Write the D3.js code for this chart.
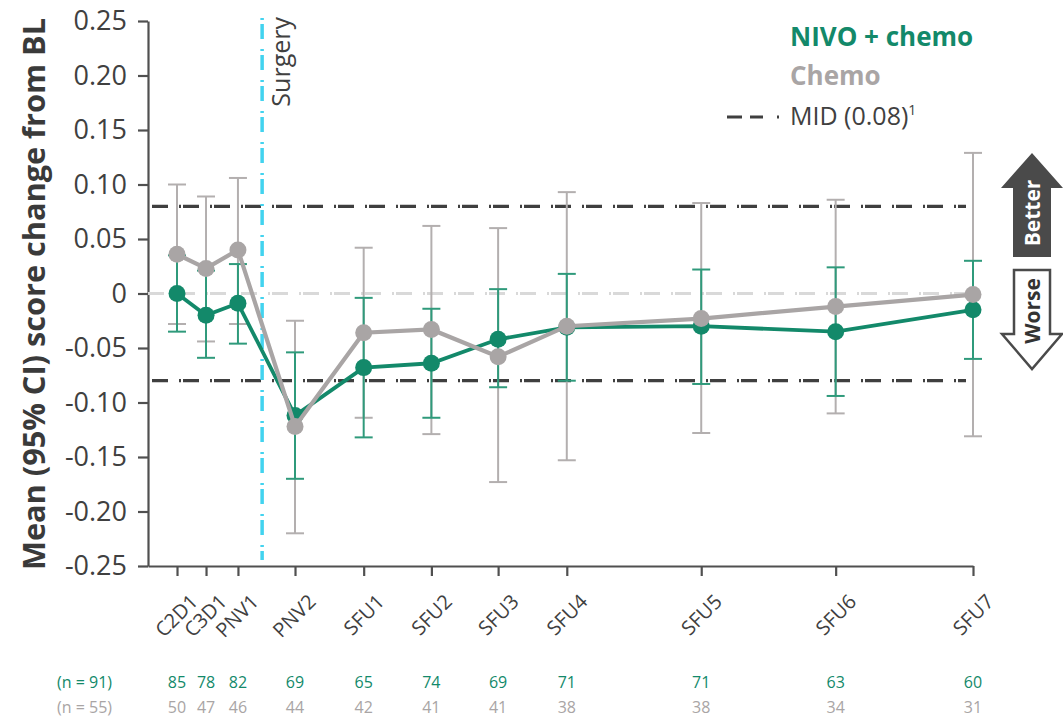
<!DOCTYPE html>
<html>
<head>
<meta charset="utf-8">
<script src="https://cdn.jsdelivr.net/npm/d3@7"></script>
<style>
  body { margin: 0; background: #fff; }
  svg { font-family: "Open Sans", "Noto Sans", sans-serif; }
</style>
</head>
<body>
<svg id="chart"></svg>
<script>
const visits = ['C2D1', 'C3D1', 'PNV1', 'PNV2', 'SFU1', 'SFU2', 'SFU3', 'SFU4', 'SFU5', 'SFU6', 'SFU7'];
// approximate study week of each visit (sets the uneven spacing)
const weeks = [3, 6, 9.3, 15.2, 22.3, 29.3, 36.2, 43.3, 57.2, 71.1, 85.3];
const surgeryWeek = 11.8;

const nivoMean = [0.000, -0.020, -0.009, -0.112, -0.068, -0.064, -0.042, -0.031, -0.030, -0.035, -0.015];
const nivoLow = [-0.035, -0.059, -0.046, -0.170, -0.132, -0.114, -0.086, -0.080, -0.083, -0.094, -0.060];
const nivoHigh = [0.035, 0.021, 0.027, -0.054, -0.004, -0.014, 0.004, 0.018, 0.022, 0.024, 0.030];

const chemoMean = [0.036, 0.023, 0.040, -0.122, -0.036, -0.033, -0.058, -0.030, -0.023, -0.012, -0.001];
const chemoLow = [-0.028, -0.044, -0.028, -0.220, -0.114, -0.129, -0.173, -0.153, -0.128, -0.110, -0.131];
const chemoHigh = [0.100, 0.089, 0.106, -0.025, 0.042, 0.062, 0.060, 0.093, 0.083, 0.086, 0.129];

const nivoN = [85, 78, 82, 69, 65, 74, 69, 71, 71, 63, 60];
const chemoN = [50, 47, 46, 44, 42, 41, 41, 38, 38, 34, 31];
const nivoTotal = 91;
const chemoTotal = 55;

const yTicks = [0.25, 0.20, 0.15, 0.10, 0.05, 0, -0.05, -0.10, -0.15, -0.20, -0.25];
const mid = 0.08;

const green = '#13896a';
const greenBar = '#2f9a7b';
const grey = '#a9a5a5';
const greyBar = '#b3afaf';
const dark = '#404040';

const width = 1063;
const height = 719;

const svg = d3.select('#chart')
    .attr('width', width)
    .attr('height', height);

const xScale = d3.scaleLinear()
    .domain([0, 85.3])
    .range([148, 973]);

const yScale = d3.scaleLinear()
    .domain([-0.25, 0.25])
    .range([566, 21]);

// axes
const yAxis = svg.append('g')
    .attr('transform', `translate(${xScale(0)},0)`)
    .call(d3.axisLeft(yScale)
        .tickValues(yTicks)
        .tickSize(10)
        .tickSizeOuter(0)
        .tickPadding(11)
        .tickFormat(d => d === 0 ? '0' : d.toFixed(2)));

const xAxis = svg.append('g')
    .attr('transform', `translate(0,${yScale(-0.25)})`)
    .call(d3.axisBottom(xScale)
        .tickValues(weeks)
        .tickSize(10)
        .tickSizeOuter(0)
        .tickFormat(''));

svg.selectAll('.domain').attr('stroke', '#505050').attr('stroke-width', 2.2);
svg.selectAll('.tick line').attr('stroke', '#505050').attr('stroke-width', 2.2);
yAxis.selectAll('.tick text')
    .attr('font-size', 27)
    .attr('fill', dark)
    .attr('font-family', '"Open Sans", sans-serif');

// x labels, rotated
svg.append('g')
    .selectAll('text')
    .data(visits)
    .join('text')
    .attr('transform', (d, i) => `translate(${xScale(weeks[i]) + 22},603) rotate(-45)`)
    .attr('text-anchor', 'end')
    .attr('font-size', 20)
    .attr('fill', dark)
    .text(d => d);

// reference lines
const dashDot = '16,11,2,2';
svg.append('line')
    .attr('x1', xScale(0)).attr('x2', 968)
    .attr('y1', yScale(0)).attr('y2', yScale(0))
    .attr('stroke', '#d9d9d9')
    .attr('stroke-width', 3)
    .attr('stroke-dasharray', dashDot);

svg.selectAll('.mid')
    .data([mid, -mid])
    .join('line')
    .attr('class', 'mid')
    .attr('x1', xScale(0) + 4).attr('x2', 966)
    .attr('y1', d => yScale(d)).attr('y2', d => yScale(d))
    .attr('stroke', '#3f3f3f')
    .attr('stroke-width', 3.2)
    .attr('stroke-dasharray', dashDot);

svg.append('line')
    .attr('x1', xScale(surgeryWeek)).attr('x2', xScale(surgeryWeek))
    .attr('y1', 18).attr('y2', 560)
    .attr('stroke', '#42d3ef')
    .attr('stroke-width', 3.5)
    .attr('stroke-dasharray', '2,4,15,10');

svg.append('text')
    .attr('transform', `translate(${xScale(surgeryWeek) + 28},17) rotate(-90)`)
    .attr('text-anchor', 'end')
    .attr('font-size', 25)
    .attr('fill', dark)
    .text('Surgery');

// error bars
function errorBars(low, high, color) {
    const g = svg.append('g')
        .attr('stroke', color)
        .attr('stroke-width', 2);
    const idx = d3.range(visits.length);
    g.selectAll('.v')
        .data(idx)
        .join('line')
        .attr('x1', i => xScale(weeks[i])).attr('x2', i => xScale(weeks[i]))
        .attr('y1', i => yScale(low[i])).attr('y2', i => yScale(high[i]));
    g.selectAll('.cap')
        .data(idx.flatMap(i => [[i, low[i]], [i, high[i]]]))
        .join('line')
        .attr('x1', d => xScale(weeks[d[0]]) - 9).attr('x2', d => xScale(weeks[d[0]]) + 9)
        .attr('y1', d => yScale(d[1])).attr('y2', d => yScale(d[1]));
}

errorBars(chemoLow, chemoHigh, greyBar);
errorBars(nivoLow, nivoHigh, greenBar);

const line = d3.line()
    .x((d, i) => xScale(weeks[i]))
    .y(d => yScale(d));

function series(mean, color, w) {
    svg.append('path')
        .datum(mean)
        .attr('fill', 'none')
        .attr('stroke', color)
        .attr('stroke-width', w)
        .attr('d', line);
    svg.append('g')
        .selectAll('circle')
        .data(mean)
        .join('circle')
        .attr('cx', (d, i) => xScale(weeks[i]))
        .attr('cy', d => yScale(d))
        .attr('r', 8.5)
        .attr('fill', color);
}

series(nivoMean, green, 3.8);
series(chemoMean, grey, 4.2);

// y axis title
svg.append('text')
    .attr('transform', 'translate(45,294) rotate(-90)')
    .attr('text-anchor', 'middle')
    .attr('font-size', 30)
    .attr('font-weight', 'bold')
    .attr('fill', '#3a3a3a')
    .attr('textLength', 552)
    .attr('lengthAdjust', 'spacingAndGlyphs')
    .text('Mean (95% CI) score change from BL');

// legend
svg.append('text')
    .attr('x', 790).attr('y', 46)
    .attr('font-size', 26).attr('font-weight', 'bold')
    .attr('fill', green)
    .text('NIVO + chemo');
svg.append('text')
    .attr('x', 790).attr('y', 85)
    .attr('font-size', 26).attr('font-weight', 'bold')
    .attr('fill', grey)
    .text('Chemo');
svg.append('line')
    .attr('x1', 727).attr('x2', 779)
    .attr('y1', 117).attr('y2', 117)
    .attr('stroke', '#3f3f3f')
    .attr('stroke-width', 3)
    .attr('stroke-dasharray', '15,8,13,14,2');
const midText = svg.append('text')
    .attr('x', 790).attr('y', 125)
    .attr('font-size', 25)
    .attr('fill', dark);
midText.append('tspan').text('MID (0.08)');
midText.append('tspan').attr('font-size', 14).attr('dy', -10).text('1');

// better / worse arrows
svg.append('path')
    .attr('d', 'M1032,153 L1063,188 L1051,188 L1051,257 L1013,257 L1013,188 L1001,188 Z')
    .attr('fill', '#4a4a4a');
svg.append('text')
    .attr('transform', 'translate(1040,213) rotate(-90)')
    .attr('text-anchor', 'middle')
    .attr('font-size', 21).attr('font-weight', 'bold')
    .attr('fill', '#fff')
    .text('Better');

svg.append('path')
    .attr('d', 'M1014,270 L1050,270 L1050,334 L1062,334 L1032,369 L1002,334 L1014,334 Z')
    .attr('fill', '#fff')
    .attr('stroke', '#4a4a4a')
    .attr('stroke-width', 2.5);
svg.append('text')
    .attr('transform', 'translate(1040,311) rotate(-90)')
    .attr('text-anchor', 'middle')
    .attr('font-size', 21).attr('font-weight', 'bold')
    .attr('fill', '#333')
    .text('Worse');

// patient counts
const counts = svg.append('g').attr('font-size', 16);
counts.append('text')
    .attr('x', 112).attr('y', 688)
    .attr('text-anchor', 'end')
    .attr('fill', green)
    .text(`(n = ${nivoTotal})`);
counts.append('text')
    .attr('x', 112).attr('y', 713)
    .attr('text-anchor', 'end')
    .attr('fill', grey)
    .text(`(n = ${chemoTotal})`);
counts.selectAll('.nn')
    .data(nivoN)
    .join('text')
    .attr('x', (d, i) => xScale(weeks[i]))
    .attr('y', 688)
    .attr('text-anchor', 'middle')
    .attr('fill', green)
    .text(d => d);
counts.selectAll('.cn')
    .data(chemoN)
    .join('text')
    .attr('x', (d, i) => xScale(weeks[i]))
    .attr('y', 713)
    .attr('text-anchor', 'middle')
    .attr('fill', grey)
    .text(d => d);
</script>
</body>
</html>
